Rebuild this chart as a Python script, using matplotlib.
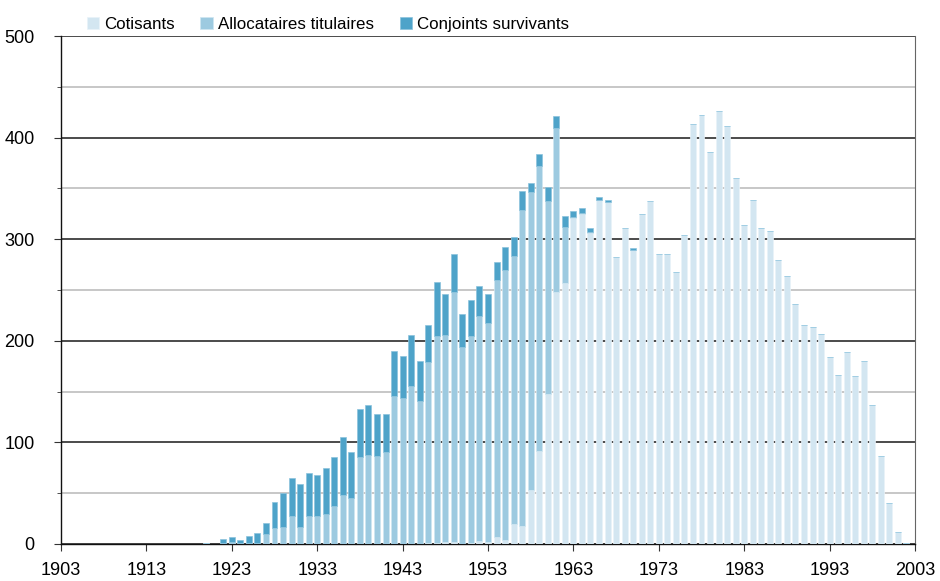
import numpy as np
import matplotlib.pyplot as plt
from matplotlib.ticker import MultipleLocator

# values (years 1920-2002)
years = list(range(1920, 2003))

cotisants = [0, 0, 0, 0, 0, 0, 0, 0, 0, 0,          # 1920-1929
             0, 0, 0, 0, 0, 0, 0, 0, 0, 0,          # 1930-1939
             0, 0, 0, 0, 0, 0, 1, 1, 2, 2,          # 1940-1949
             0, 1, 3, 2, 7, 4, 20, 18, 53, 92,      # 1950-1959
             148, 248, 257, 321, 325, 306, 339, 337, 282, 311,   # 1960-1969
             289, 325, 338, 285, 285, 268, 304, 413, 422, 386,   # 1970-1979
             426, 411, 360, 314, 339, 311, 308, 280, 264, 236,   # 1980-1989
             216, 214, 207, 184, 166, 189, 165, 180, 137, 87,    # 1990-1999
             40, 12, 1]                                          # 2000-2002

titulaires = [1, 0, 1, 2, 1, 1, 1, 10, 16, 17,
              28, 17, 28, 28, 30, 37, 48, 45, 86, 88,
              87, 91, 146, 144, 156, 141, 178, 204, 204, 246,
              194, 204, 221, 216, 253, 266, 263, 311, 293, 280,
              190, 161, 55, 1, 1, 1, 0, 0, 0, 0,
              0, 0, 0, 0, 0, 0, 0, 0, 0, 0,
              0, 0, 0, 0, 0, 0, 0, 0, 0, 0,
              0, 0, 0, 0, 0, 0, 0, 0, 0, 0,
              0, 0, 0]

conjoints = [0, 0, 4, 5, 3, 7, 10, 11, 25, 33,
             37, 42, 42, 40, 45, 49, 57, 46, 47, 49,
             41, 37, 44, 41, 50, 39, 37, 53, 40, 37,
             32, 35, 30, 28, 18, 22, 19, 18, 9, 12,
             13, 12, 11, 6, 5, 4, 3, 2, 0, 0,
             2, 0, 0, 0, 0, 0, 0, 0, 0, 0,
             0, 0, 0, 0, 0, 0, 0, 0, 0, 0,
             0, 0, 0, 0, 0, 0, 0, 0, 0, 0,
             0, 0, 0]

labels = ['Cotisants', 'Allocataires titulaires', 'Conjoints survivants']
colors = ['#d3e6f1', '#9dcae0', '#4ea3c9']

plt.rcParams['font.family'] = ['Liberation Sans Narrow', 'Liberation Sans', 'DejaVu Sans']

fig = plt.figure(figsize=(9.4, 5.81), dpi=100)
ax = fig.add_axes([0.0649, 0.0637, 0.9085, 0.8743])

cot = np.array(cotisants)
tit = np.array(titulaires)
conj = np.array(conjoints)

w = 0.7
ax.bar(years, cot, width=w, color=colors[0], edgecolor='#e9f3f9', linewidth=0.5, label=labels[0], zorder=3)
ax.bar(years, tit, width=w, bottom=cot, color=colors[1], edgecolor='#cfe6f1', linewidth=0.5, label=labels[1], zorder=3)
ax.bar(years, conj, width=w, bottom=cot + tit, color=colors[2], edgecolor='#8cc3dd', linewidth=0.5, label=labels[2], zorder=3)

ax.set_xlim(1903, 2003)
ax.set_ylim(0, 500)
ax.set_xticks(range(1903, 2004, 10))
ax.yaxis.set_major_locator(MultipleLocator(100))
ax.yaxis.set_minor_locator(MultipleLocator(50))

# black lines every 100, grey every 50
ax.grid(axis='y', which='major', color='#1a1a1a', linewidth=1.1, zorder=0)
ax.grid(axis='y', which='minor', color='#b8b8b8', linewidth=1.1, zorder=0)
ax.set_axisbelow(True)

ax.tick_params(axis='both', which='both', labelsize=13, direction='out', length=5, color='#333333')
ax.tick_params(axis='y', which='major', pad=14)
ax.tick_params(axis='x', which='major', pad=8)
ax.tick_params(axis='y', which='minor', length=3)
for s in ['left', 'bottom']:
    ax.spines[s].set_color('#111111')
    ax.spines[s].set_linewidth(1.0)
ax.spines['top'].set_visible(False)
ax.spines['right'].set_color('#666666')

ax.legend(loc='lower left', bbox_to_anchor=(0.028, 1.005), ncol=3, frameon=False,
          fontsize=12.2, handlelength=0.75, handleheight=0.75, handletextpad=0.3,
          columnspacing=1.5, borderaxespad=0, borderpad=0.1)

fig.savefig('out.png', dpi=100)
